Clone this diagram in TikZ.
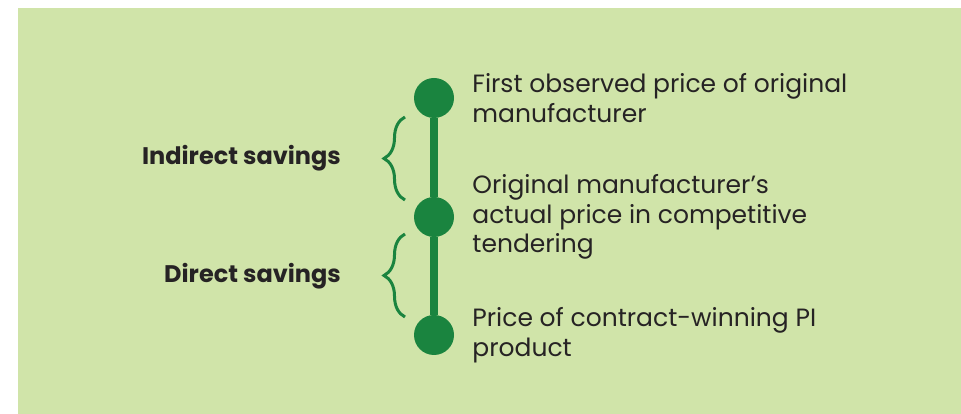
\documentclass[tikz,border=0pt]{standalone}
\usepackage{fontspec}
\setmainfont{Poppins}
\usetikzlibrary{positioning,decorations.pathreplacing}

\definecolor{panelgreen}{HTML}{D0E4A9}
\definecolor{dotgreen}{HTML}{1A843F}
\definecolor{textgrey}{HTML}{262324}

\begin{document}
\begin{tikzpicture}
    [
      x=1pt,y=1pt,
      dot/.style={circle,fill=dotgreen,minimum size=40pt,inner sep=0pt},
      price/.style={right=18pt,anchor=west,align=left,inner sep=0pt,text=textgrey,
        font=\fontsize{25}{29.5}\selectfont},
      saving/.style={left=42pt,anchor=east,inner sep=0pt,text=textgrey,
        font=\bfseries\fontsize{24}{28}\selectfont},
      bracket/.style={decorate,decoration={brace,amplitude=21pt},draw=dotgreen,
        line width=3pt},
      link/.style={draw=dotgreen,line width=8pt}
    ]

    \useasboundingbox (0,0) rectangle (961,414);
    \fill [panelgreen] (18,0) rectangle (961,406);

    \node at (434,316) [dot] (first) {};
    \node at (434,197) [dot] (actual) {};
    \node at (434,79) [dot] (winning) {};

    \draw [link] (first) -- (actual);
    \draw [link] (actual) -- (winning);

    \node [price] at (first.east) (firsttext) {First observed price of original\\manufacturer};
    \node [price] at (actual.east) (actualtext) {Original manufacturer’s\\actual price in competitive\\tendering};
    \node [price] at (winning.east) (winningtext) {Price of contract-winning PI\\product};

    % braces between the dots
    \coordinate (indirect-low) at (405,214);
    \coordinate (indirect-high) at (405,297);
    \coordinate (direct-low) at (405,97);
    \coordinate (direct-high) at (405,180);
    \draw [bracket] (indirect-low) -- (indirect-high);
    \draw [bracket] (direct-low) -- (direct-high);

    \node [saving] at (383,256) (indirect) {Indirect savings};
    \node [saving] at (383,138) (direct) {Direct savings};
  \end{tikzpicture}
\end{document}
